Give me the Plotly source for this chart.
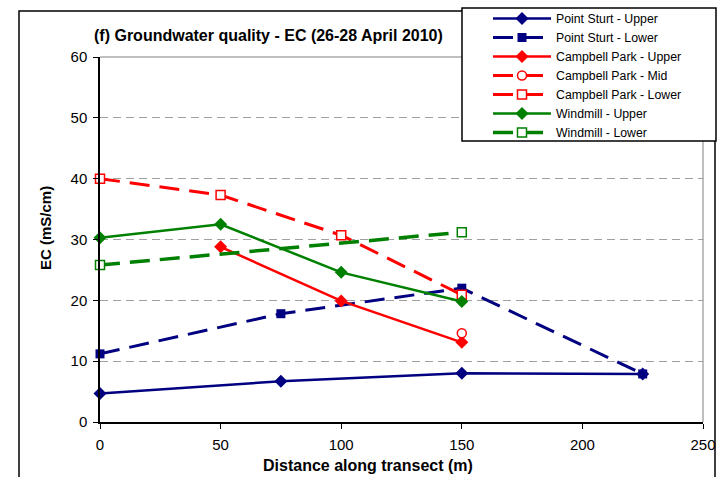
import plotly.graph_objects as go

# ---- data ----
ps_upper_x = [0, 75, 150, 225]
ps_upper_y = [4.7, 6.7, 8.0, 7.9]
ps_lower_x = [0, 75, 150, 225]
ps_lower_y = [11.2, 17.8, 22.0, 7.9]
cp_upper_x = [50, 100, 150]
cp_upper_y = [28.8, 19.9, 13.1]
cp_mid_x = [150]
cp_mid_y = [14.6]
cp_lower_x = [0, 50, 100, 150]
cp_lower_y = [40.0, 37.3, 30.7, 20.9]
wm_upper_x = [0, 50, 100, 150]
wm_upper_y = [30.3, 32.5, 24.6, 19.8]
wm_lower_x = [0, 150]
wm_lower_y = [25.8, 31.2]

x_ticks = [0, 50, 100, 150, 200, 250]
y_ticks = [0, 10, 20, 30, 40, 50, 60]

NAVY = "#000080"
RED = "#FF0000"
GREEN = "#008000"
DASH = "20px,10px"
FONT = "Liberation Sans, Arial, sans-serif"

fig = go.Figure()

def add(x, y, name, color, dash, symbol, filled, size, width):
    fig.add_trace(go.Scatter(
        x=x, y=y, name=name, mode="lines+markers", cliponaxis=False,
        line=dict(color=color, width=width, dash=dash),
        marker=dict(symbol=symbol, size=size,
                    color=color if filled else "white",
                    line=dict(color=color, width=0 if filled else 1.5)),
    ))

add(ps_upper_x, ps_upper_y, "Point Sturt - Upper", NAVY, "solid", "diamond", True, 10, 2.5)
add(ps_lower_x, ps_lower_y, "Point Sturt - Lower", NAVY, DASH, "square", True, 9, 3)
add(cp_upper_x, cp_upper_y, "Campbell Park - Upper", RED, "solid", "diamond", True, 10, 2.5)
add(cp_mid_x, cp_mid_y, "Campbell Park - Mid", RED, DASH, "circle", False, 9, 3)
add(cp_lower_x, cp_lower_y, "Campbell Park - Lower", RED, DASH, "square", False, 9, 3)
add(wm_upper_x, wm_upper_y, "Windmill - Upper", GREEN, "solid", "diamond", True, 10, 2.5)
add(wm_lower_x, wm_lower_y, "Windmill - Lower", GREEN, DASH, "square", False, 9, 3.5)

L, R, T, B = 100, 17, 57, 55
W, H = 720, 477
pw, ph = W - L - R, H - T - B

def px(xp):
    return (xp - L) / pw

def py(yp):
    return (H - B - yp) / ph

shapes = [
    # plot area border (top/right, gray)
    dict(type="line", xref="paper", yref="paper", x0=0, x1=1, y0=1, y1=1,
         line=dict(color="#808080", width=1)),
    dict(type="line", xref="paper", yref="paper", x0=1, x1=1, y0=0, y1=1,
         line=dict(color="#808080", width=1)),
    # chart area border
    dict(type="rect", xref="paper", yref="paper", x0=px(19), x1=px(715),
         y0=py(490), y1=py(11), line=dict(color="black", width=1.5),
         fillcolor="rgba(0,0,0,0)", layer="above"),
    # legend box
    dict(type="rect", xref="paper", yref="paper", x0=px(462), x1=px(716),
         y0=py(141), y1=py(8), line=dict(color="black", width=1.5),
         fillcolor="white", layer="above"),
]

annotations = [
    dict(text="<b>(f) Groundwater quality - EC (26-28 April 2010)</b>",
         xref="paper", yref="paper", x=px(268), y=py(35), showarrow=False,
         xanchor="center", yanchor="middle", font=dict(size=16, color="black", family=FONT)),
    dict(text="<b>Distance along transect (m)</b>",
         xref="paper", yref="paper", x=px(368), y=py(465), showarrow=False,
         xanchor="center", yanchor="middle", font=dict(size=16, color="black", family=FONT)),
    dict(text="<b>EC (mS/cm)</b>", textangle=-90,
         xref="paper", yref="paper", x=px(45), y=py(228), showarrow=False,
         xanchor="center", yanchor="middle", font=dict(size=15, color="black", family=FONT)),
]

fig.update_layout(
    width=W, height=H,
    margin=dict(l=L, r=R, t=T, b=B, pad=0, autoexpand=False),
    paper_bgcolor="white", plot_bgcolor="white",
    font=dict(family=FONT, size=15, color="black"),
    showlegend=True,
    legend=dict(x=px(488), y=py(4), xanchor="left", yanchor="top",
                bgcolor="rgba(0,0,0,0)", borderwidth=0,
                font=dict(size=12.3, color="black", family=FONT),
                itemwidth=58, tracegroupgap=0),
    shapes=shapes,
    annotations=annotations,
    xaxis=dict(range=[0, 250], tickvals=x_ticks, showgrid=False, zeroline=False,
               showline=True, linecolor="black", linewidth=1.5, automargin=False,
               ticks="outside", ticklen=5, tickcolor="black", ticklabelstandoff=3,
               tickfont=dict(size=15, color="black")),
    yaxis=dict(range=[0, 60], tickvals=y_ticks, showgrid=True, gridcolor="#a0a0a0",
               griddash="8px,5px", gridwidth=1, zeroline=False, automargin=False,
               showline=True, linecolor="black", linewidth=1.5, ticklabelstandoff=3,
               ticks="outside", ticklen=5, tickcolor="black",
               tickfont=dict(size=15, color="black")),
)

fig.write_html("out.html")
